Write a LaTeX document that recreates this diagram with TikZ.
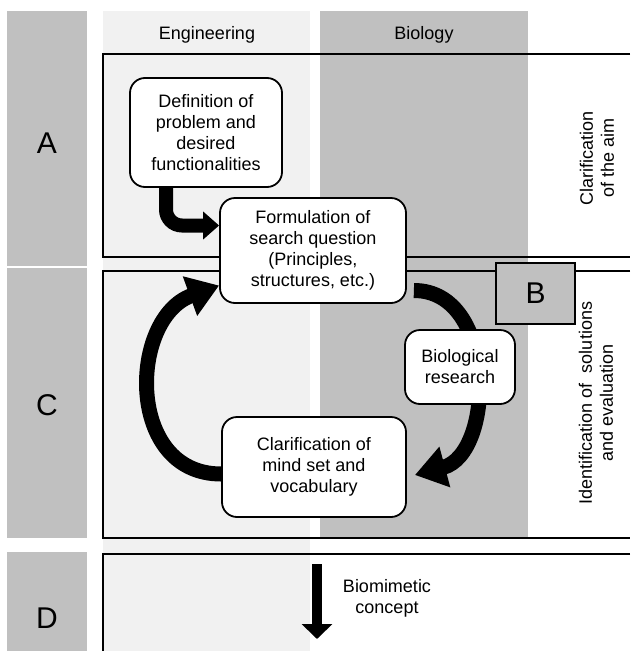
\documentclass[tikz,border=0pt]{standalone}
\usepackage{fontspec}
\setmainfont{Liberation Sans}
\usetikzlibrary{arrows.meta}
\definecolor{labgray}{RGB}{192,192,192}
\definecolor{enggray}{RGB}{241,241,241}
\pgfdeclarelayer{bg}
\pgfdeclarelayer{arw}
\pgfsetlayers{bg,arw,main}
\tikzset{
  stage/.style={draw, line width=1.8pt, fill=white, rounded corners=15pt,
    align=center, inner sep=0pt, font=\fontsize{18}{21}\selectfont},
  letter/.style={font=\fontsize{30}{32}\selectfont},
  label text/.style={align=center, font=\fontsize{18}{21}\selectfont},
  frame/.style={line width=1.6pt},
  loop arrow/.style={line width=15pt, -{Triangle[width=40pt,length=31pt]}},
  bend arrow/.style={line width=14pt, rounded corners=16pt,
    -{Triangle[width=27pt,length=16pt]}},
}

\begin{document}
\begin{tikzpicture}[x=1pt,y=1pt]
  \useasboundingbox (0,0) rectangle (630,-651);

  \begin{pgfonlayer}{bg}
    \fill[labgray] (7,-11) rectangle (87,-266);
    \fill[labgray] (7,-268) rectangle (87,-538);
    \fill[labgray] (7,-552) rectangle (87,-651);
    \fill[enggray] (103,-11) rectangle (310,-651);
    \fill[labgray] (320,-11) rectangle (528,-538);
    \draw[frame] (630,-54) -| (103,-257) -- (630,-257);
    \draw[frame] (630,-271) -| (103,-538) -- (630,-538);
    \draw[frame] (630,-554) -| (103,-651);
  \end{pgfonlayer}

  \node[letter] (la) at (47,-143) {A};
  \node[letter] (lc) at (47,-405) {C};
  \node[letter] (ld) at (47,-618) {D};

  \node[label text] (eng) at (207,-35) {Engineering};
  \node[label text] (biol) at (424,-35) {Biology};

  \node[stage, minimum width=152pt, minimum height=109pt] (def) at (206,-132.5)
    {Definition of\\problem and\\desired\\functionalities};
  \node[stage, minimum width=186pt, minimum height=105pt] (form) at (313,-250.5)
    {Formulation of\\search question\\(Principles,\\structures, etc.)};
  \node[stage, minimum width=110pt, minimum height=74pt] (bio) at (460,-367)
    {Biological\\research};
  \node[stage, minimum width=184pt, minimum height=100pt] (clar) at (314,-467)
    {Clarification of\\mind set and\\vocabulary};
  \node[draw, fill=labgray, line width=1.2pt, minimum width=79pt,
    minimum height=61pt, letter] (b) at (535.5,-293.5) {B};

  \node[label text, rotate=90] (aim) at (597,-158) {Clarification\\of the aim};
  \node[label text, rotate=90] (ident) at (596,-403)
    {Identification of~ solutions\\and evaluation};

  \coordinate (dtop) at (317,-564);
  \coordinate (dbot) at (317,-639);
  \node[label text] (concept) at (387,-598) {Biomimetic\\concept};

  \begin{pgfonlayer}{arw}
    \draw[bend arrow] ([xshift=-40pt]def.south) |- ([yshift=25pt]form.west);
    \draw[loop arrow] ([xshift=7pt,yshift=-40pt]form.east)
      to[out=0,in=15,looseness=1.15] ([xshift=8pt,yshift=-8pt]clar.east);
    \draw[loop arrow] ([yshift=-7pt]clar.west)
      to[out=180,in=200,looseness=1.3] ([yshift=-35pt]form.west);
    \draw[line width=10pt, -{Triangle[width=30pt,length=15pt]}] (dtop) -- (dbot);
  \end{pgfonlayer}
\end{tikzpicture}
\end{document}
